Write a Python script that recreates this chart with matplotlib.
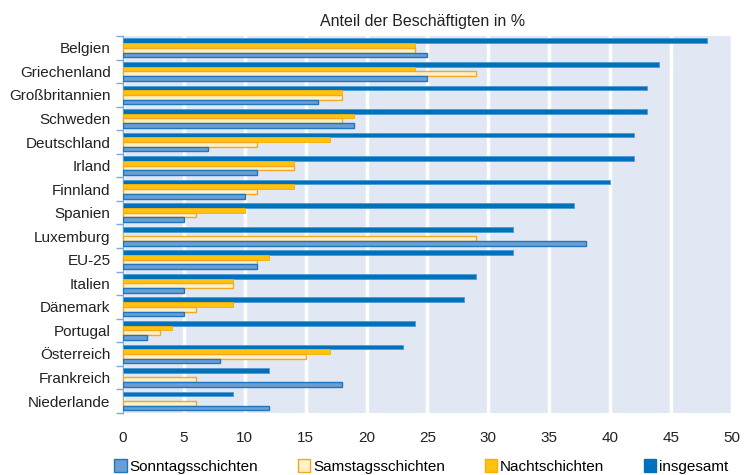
import numpy as np
import matplotlib.pyplot as plt
from matplotlib.patches import Patch

plt.rcParams['font.family'] = ['Liberation Sans', 'DejaVu Sans']

laender = ["Belgien", "Griechenland", "Großbritannien", "Schweden", "Deutschland",
           "Irland", "Finnland", "Spanien", "Luxemburg", "EU-25", "Italien",
           "Dänemark", "Portugal", "Österreich", "Frankreich", "Niederlande"]
insgesamt = [48, 44, 43, 43, 42, 42, 40, 37, 32, 32, 29, 28, 24, 23, 12, 9]
nacht = [24, 24, 18, 19, 17, 14, 14, 10, 0, 12, 9, 9, 4, 17, 0, 0]
samstag = [24, 29, 18, 18, 11, 14, 11, 6, 29, 11, 9, 6, 3, 15, 6, 6]
sonntag = [25, 25, 16, 19, 7, 11, 10, 5, 38, 11, 5, 5, 2, 8, 18, 12]
x_ticks = list(range(0, 51, 5))

c_ins = "#0072bc"
c_nacht = "#ffc20e"
c_sams = "#fff1c8"
c_sams_edge = "#f5a623"
c_sonn = "#6a9fd3"
c_sonn_edge = "#1f75c0"

fig = plt.figure(figsize=(7.46, 4.75), dpi=100)
ax = fig.add_axes([0.165, 0.131, 0.816, 0.793])
ax.set_facecolor("#e1e8f4")

y = np.arange(len(laender))
h = 0.2
ax.barh(y - 0.3, insgesamt, height=h, color=c_ins, edgecolor="#4f9bd4", linewidth=0.6, zorder=3)
ax.barh(y - 0.1, nacht, height=h, color=c_nacht, edgecolor="#f5b000", linewidth=0.6, zorder=3)
ax.barh(y + 0.1, samstag, height=h, color=c_sams, edgecolor=c_sams_edge, linewidth=1.0, zorder=3)
ax.barh(y + 0.3, sonntag, height=h, color=c_sonn, edgecolor=c_sonn_edge, linewidth=1.0, zorder=3)

ax.set_ylim(len(laender) - 0.5, -0.5)
ax.set_xlim(0, 50)
ax.set_yticks(y)
ax.set_yticklabels(laender, fontsize=11, color="#222222")
ax.set_yticks(np.arange(len(laender) + 1) - 0.5, minor=True)
ax.tick_params(axis="y", which="major", length=0, pad=9)
ax.tick_params(axis="y", which="minor", length=5, color="#7fa8d6", width=1)
ax.set_xticks(x_ticks)
ax.set_xticklabels([str(v) for v in x_ticks], fontsize=11, color="#222222")
ax.tick_params(axis="x", length=0, pad=13)

ax.grid(axis="x", color="white", linewidth=2.5, zorder=1)
ax.set_axisbelow(True)
for s in ["top", "right", "bottom"]:
    ax.spines[s].set_visible(False)
ax.spines["left"].set_color("#7fa8d6")
ax.spines["left"].set_linewidth(1.0)

fig.text(0.566, 0.955, "Anteil der Beschäftigten in %", ha="center", va="center",
         fontsize=11.5, color="#222222")

handles = [
    Patch(facecolor=c_sonn, edgecolor=c_sonn_edge, label="Sonntagsschichten"),
    Patch(facecolor=c_sams, edgecolor=c_sams_edge, label="Samstagsschichten"),
    Patch(facecolor=c_nacht, edgecolor="#f5b000", label="Nachtschichten"),
    Patch(facecolor=c_ins, edgecolor=c_ins, label="insgesamt"),
]
fig.legend(handles=handles, loc="center", bbox_to_anchor=(0.565, 0.018), ncol=4,
           frameon=False, fontsize=11, handlelength=0.8, handleheight=0.9,
           handletextpad=0.2, columnspacing=2.6, borderaxespad=0)

fig.savefig("out.png", dpi=100)
